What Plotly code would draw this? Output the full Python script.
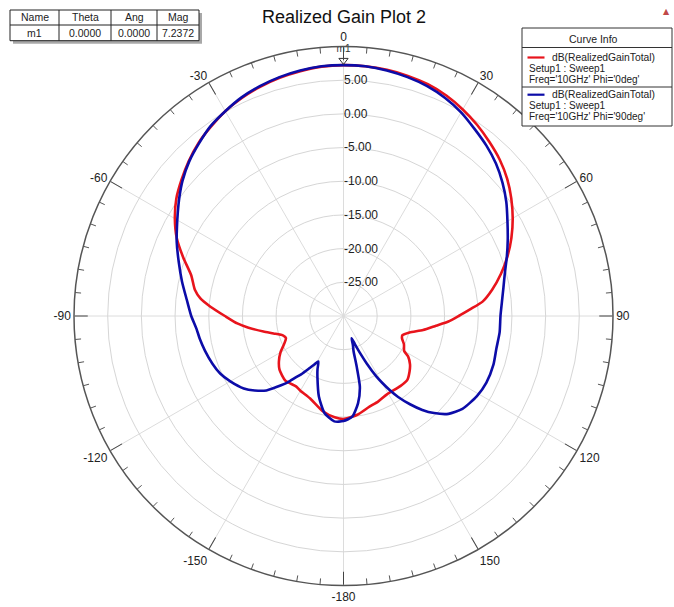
import plotly.graph_objects as go

W, H = 674, 607

TITLE = "Realized Gain Plot 2"

# Phi = 0 deg (red)
theta_phi0 = [-180, -175, -168, -158, -150, -146, -138, -130, -125, -120, -115, -111, -108,
              -104, -101, -97, -94, -90, -86, -83, -80, -75, -70, -65, -60, -55, -50, -45,
              -40, -35, -30, -25, -20, -15, -10, -5, 0, 5, 10, 15, 20, 25, 30, 35, 40, 45,
              50, 55, 60, 65, 70, 75, 80, 84, 87, 90, 93, 96, 100, 104, 108, 111, 115, 120,
              122, 126, 130, 135, 141, 151, 158, 164, 172, 180]
gain_phi0 = [-14.7, -14.9, -15.5, -16.8, -17.2, -17.4, -17.1, -17.6, -18.3, -19.2, -20.3, -20.85, -20.6,
             -19.3, -17.9, -15.8, -14.2, -12.4, -10.2, -8.6, -7.6, -6.6, -4.7, -2.7, -1.1, 0.3, 1.4, 2.5,
             3.5, 4.3, 5.1, 5.7, 6.2, 6.6, 6.9, 7.15, 7.2372, 7.2, 7.1, 6.9, 6.6, 6.1, 5.4, 4.6, 3.7, 2.8,
             1.7, 0.4, -1.0, -2.5, -4.1, -5.8, -7.6, -9.2, -11.2, -12.9, -14.4, -16.2, -18.0, -19.9, -20.8, -20.7, -20.1, -19.6,
             -18.7, -17.8, -17.2, -16.6, -16.6, -16.7, -16.3, -16.0, -15.2, -14.7]

# Phi = 90 deg (blue)
theta_phi90 = [-180, -175, -169, -163, -157, -154, -151, -149, -147, -144, -142, -140, -137, -134,
               -130, -126, -120, -115, -110, -104, -99, -95, -90, -84, -78, -72, -66, -62, -58,
               -54, -50, -45, -40, -35, -30, -25, -20, -15, -10, -5, 0, 5, 10, 15, 20, 25, 30,
               35, 40, 45, 50, 55, 60, 65, 70, 75, 80, 85, 90, 96, 102, 108, 115, 121, 128, 133,
               137, 140, 143, 146, 148, 150, 151.5, 154, 156, 158, 160, 162, 164, 165.4, 167,
               170.5, 175, 180]
gain_phi90 = [-14.4, -14.3, -15.3, -17.5, -20.1, -21.2, -22.3, -21.6, -20.8, -19.3, -18.4, -17.2, -15.7, -14.1,
              -12.8, -11.7, -10.6, -9.8, -9.3, -8.8, -8.4, -8.1, -7.4, -6.6, -5.5, -4.3, -2.9, -2.0, -1.0,
              0.1, 1.2, 2.4, 3.4, 4.4, 5.1, 5.8, 6.3, 6.7, 7.0, 7.2, 7.2372, 7.2, 7.0, 6.7, 6.3, 5.7, 4.9,
              3.9, 3.0, 2.0, 0.8, -0.5, -1.9, -3.1, -4.2, -5.2, -5.9, -6.4, -6.7, -6.7, -6.8, -6.6, -6.6, -6.9, -7.6, -8.7,
              -10.3, -11.8, -13.6, -15.5, -17.0, -18.6, -19.8, -22.2, -24.0, -25.5, -26.5, -25.5, -24.6, -22.2, -19.2,
              -16.9, -15.0, -14.4]

ang_tick_vals = [0, 30, 60, 90, 120, 150, 180, 210, 240, 270, 300, 330]
ang_tick_text = ["0", "30", "60", "90", "120", "150", "-180", "-150", "-120", "-90", "-60", "-30"]
rad_tick_vals = [-25, -20, -15, -10, -5, 0, 5]
rad_tick_text = ["-25.00", "-20.00", "-15.00", "-10.00", "-5.00", "0.00", "5.00"]
rad_range = [-30, 10]

marker_cols = ["Name", "Theta", "Ang", "Mag"]
marker_row = ["m1", "0.0000", "0.0000", "7.2372"]
marker_name = "m1"
marker_theta = 0.0
marker_mag = 7.2372

legend_title = "Curve Info"
legend_entries = [
    ("dB(RealizedGainTotal)", "Setup1 : Sweep1", "Freq='10GHz' Phi='0deg'", "#e8141c"),
    ("dB(RealizedGainTotal)", "Setup1 : Sweep1", "Freq='10GHz' Phi='90deg'", "#0c0ca8"),
]

FONT = "Liberation Sans, Arial, sans-serif"


def px(x):
    return x / W


def py(y):
    return 1 - y / H


fig = go.Figure()

# minor ticks on the outer circle every 5 degrees
minor_r, minor_t = [], []
for a in range(0, 360, 5):
    if a % 30:
        minor_r += [rad_range[1], rad_range[1] - 0.9, None]
        minor_t += [a, a, None]
fig.add_trace(go.Scatterpolar(r=minor_r, theta=minor_t, mode="lines",
                              line=dict(color="#555555", width=1), hoverinfo="skip",
                              showlegend=False))

fig.add_trace(go.Scatterpolar(r=gain_phi0, theta=theta_phi0, mode="lines",
                              line=dict(color=legend_entries[0][3], width=2.6, shape="spline", smoothing=0.6),
                              name="Phi=0deg", showlegend=False))
fig.add_trace(go.Scatterpolar(r=gain_phi90, theta=theta_phi90, mode="lines",
                              line=dict(color=legend_entries[1][3], width=2.6, shape="spline", smoothing=0.6),
                              name="Phi=90deg", showlegend=False))

fig.add_trace(go.Scatterpolar(r=[marker_mag + 0.7], theta=[marker_theta], mode="markers+text",
                              marker=dict(symbol="triangle-down-open", size=8, color="#333333",
                                          line=dict(width=1)),
                              text=[marker_name], textposition="top center",
                              textfont=dict(size=10, color="#333333", family=FONT),
                              showlegend=False, hoverinfo="skip"))

cx, cy, R = 343.5, 316.0, 269.5
fig.update_layout(
    width=W, height=H,
    margin=dict(l=0, r=0, t=0, b=0),
    paper_bgcolor="white",
    font=dict(family=FONT, color="#222222"),
    title=dict(text=TITLE, x=px(344), y=py(17), xanchor="center", yanchor="middle",
               font=dict(size=18, color="#111111", family=FONT)),
    polar=dict(
        domain=dict(x=[px(cx - R), px(cx + R)], y=[py(cy + R), py(cy - R)]),
        bgcolor="white",
        angularaxis=dict(rotation=90, direction="clockwise", tickmode="array",
                         tickvals=ang_tick_vals, ticktext=ang_tick_text,
                         ticks="inside", ticklen=13, tickcolor="#444444", tickwidth=1,
                         showline=True, linecolor="#555555", linewidth=1.5,
                         showgrid=True, gridcolor="#dcdcdc", gridwidth=1,
                         tickfont=dict(size=12, color="#222222", family=FONT)),
        radialaxis=dict(range=rad_range, angle=90, tickangle=90, tickmode="array",
                        tickvals=rad_tick_vals, ticktext=rad_tick_text,
                        showline=False, ticks="", showgrid=True, gridcolor="#d6d6d6", gridwidth=1,
                        tickfont=dict(size=12, color="#222222", family=FONT)),
    ),
)

shapes = []
annotations = []

# marker table
tx0, tx1, ty0, ty1, tymid = 10, 199, 10, 40.7, 25
col_edges = [10, 59, 111, 157, 199]
shapes.append(dict(type="rect", xref="paper", yref="paper", x0=px(tx0 + 3), x1=px(tx1 + 3),
                   y0=py(ty1 + 3), y1=py(ty0 + 3), fillcolor="#a8a8a8", line=dict(width=0)))
shapes.append(dict(type="rect", xref="paper", yref="paper", x0=px(tx0), x1=px(tx1),
                   y0=py(ty1), y1=py(ty0), fillcolor="white", line=dict(color="#222222", width=1)))
shapes.append(dict(type="line", xref="paper", yref="paper", x0=px(tx0), x1=px(tx1),
                   y0=py(tymid), y1=py(tymid), line=dict(color="#222222", width=1)))
for xe in col_edges[1:-1]:
    shapes.append(dict(type="line", xref="paper", yref="paper", x0=px(xe), x1=px(xe),
                       y0=py(ty1), y1=py(ty0), line=dict(color="#222222", width=1)))
for i in range(4):
    xc = (col_edges[i] + col_edges[i + 1]) / 2
    annotations.append(dict(x=px(xc), y=py(17), xref="paper", yref="paper", text=marker_cols[i],
                            showarrow=False, xanchor="center", yanchor="middle",
                            font=dict(size=10.5, color="#222222", family=FONT)))
    annotations.append(dict(x=px(xc), y=py(33), xref="paper", yref="paper", text=marker_row[i],
                            showarrow=False, xanchor="center", yanchor="middle",
                            font=dict(size=10.5, color="#222222", family=FONT)))

# curve info box
lx0, lx1, ly0, ly1 = 522, 672, 28, 126
shapes.append(dict(type="rect", xref="paper", yref="paper", x0=px(lx0), x1=px(lx1),
                   y0=py(ly1), y1=py(ly0), fillcolor="white", line=dict(color="#333333", width=1)))
shapes.append(dict(type="line", xref="paper", yref="paper", x0=px(lx0), x1=px(lx1),
                   y0=py(47.5), y1=py(47.5), line=dict(color="#333333", width=1)))
shapes.append(dict(type="line", xref="paper", yref="paper", x0=px(lx0), x1=px(lx1),
                   y0=py(87), y1=py(87), line=dict(color="#333333", width=1)))
annotations.append(dict(x=px(593), y=py(39), xref="paper", yref="paper", text=legend_title,
                        showarrow=False, xanchor="center", yanchor="middle",
                        font=dict(size=10.5, color="#222222", family=FONT)))
for k, (l1, l2, l3, col) in enumerate(legend_entries):
    y0 = 57.5 + k * 37.2
    shapes.append(dict(type="line", xref="paper", yref="paper", x0=px(527.5), x1=px(544.5),
                       y0=py(y0), y1=py(y0), line=dict(color=col, width=2.2)))
    annotations.append(dict(x=px(549.5), y=py(y0), xref="paper", yref="paper", text=l1,
                            showarrow=False, xanchor="left", yanchor="middle",
                            font=dict(size=10.3, color="#222222", family=FONT)))
    annotations.append(dict(x=px(526.5), y=py(y0 + 10.8), xref="paper", yref="paper", text=l2,
                            showarrow=False, xanchor="left", yanchor="middle",
                            font=dict(size=10, color="#222222", family=FONT)))
    annotations.append(dict(x=px(526.5), y=py(y0 + 21.6), xref="paper", yref="paper", text=l3,
                            showarrow=False, xanchor="left", yanchor="middle",
                            font=dict(size=10, color="#222222", family=FONT)))

annotations.append(dict(x=px(666), y=py(12), xref="paper", yref="paper", text="▲",
                        showarrow=False, xanchor="center", yanchor="middle",
                        font=dict(size=8, color="#c04848", family="DejaVu Sans")))

fig.update_layout(shapes=shapes, annotations=annotations)

fig.write_html("out.html")
